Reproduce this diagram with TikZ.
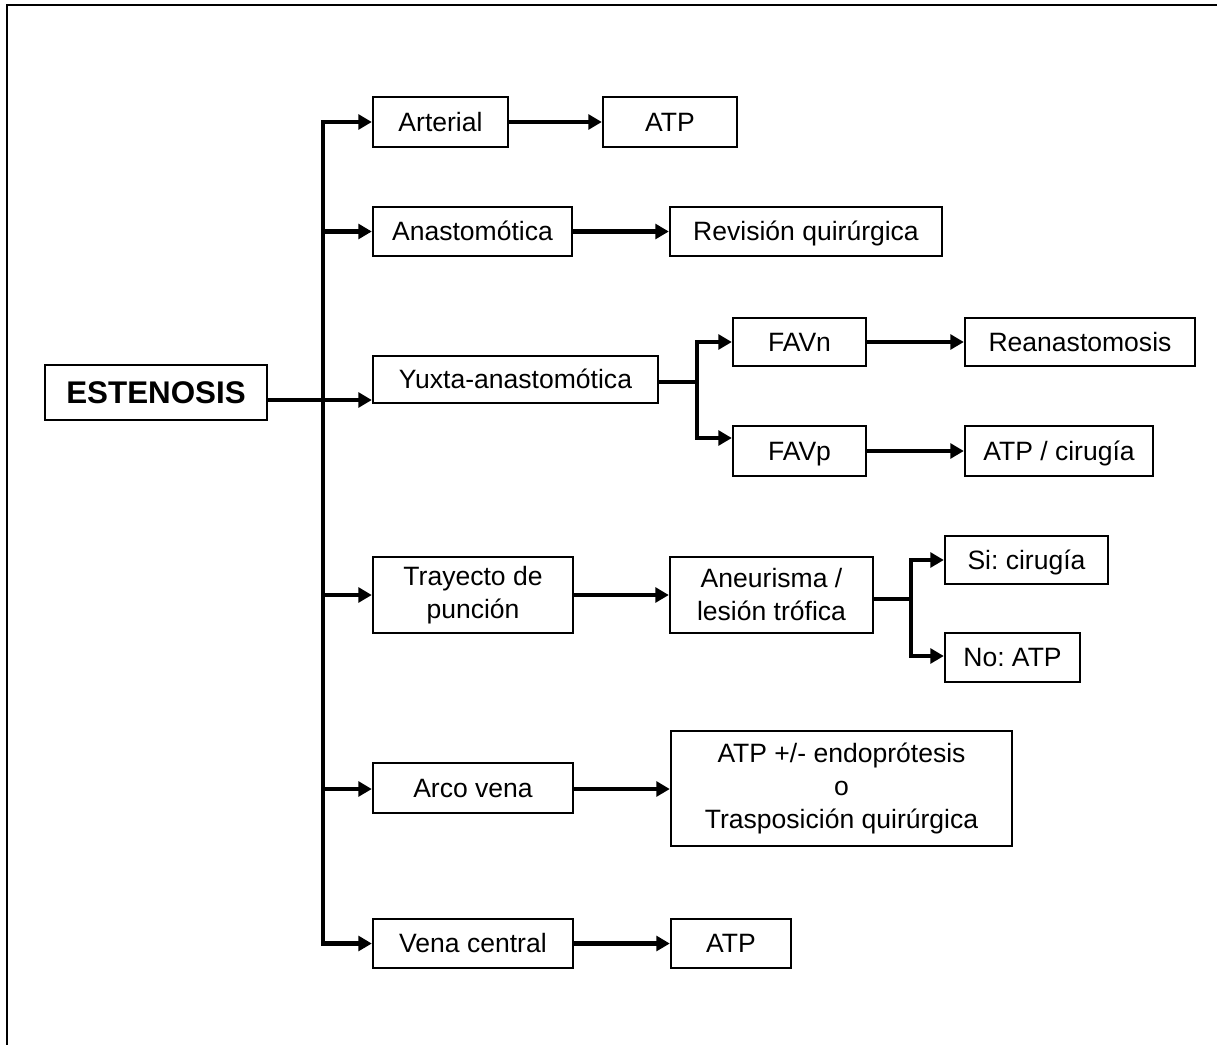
\documentclass[tikz,border=0pt]{standalone}
\usepackage{fontspec}
\setmainfont{Liberation Sans}
\frenchspacing
\usetikzlibrary{arrows.meta}
\begin{document}
\begin{tikzpicture}[x=0.75pt,y=-0.75pt,
  box/.style={draw, line width=1.8pt, inner sep=0pt, align=center,
    font=\fontsize{19.9}{24.75}\selectfont},
  one/.style={text height=18.5pt, text depth=4.3pt},
  arr/.style={line width=3.4pt, -{Triangle[length=10pt,width=11pt]}},
  ln/.style={line width=3.4pt},
  trunk/.style={line width=3.4pt, line cap=rect}]
\useasboundingbox (0,0) rectangle (1217,1045);
% frame (only top and left edges visible)
\draw[line width=1.8pt] (7,1045) -- (7,5) -- (1217,5);

% nodes
\node[box, minimum width=166.5pt, minimum height=41.25pt, font=\fontsize{23.5}{28}\selectfont\bfseries, text height=21pt, text depth=4pt] (est) at (156,392.5) {ESTENOSIS};

\node[box, one, minimum width=101.25pt, minimum height=37.5pt] (art) at (440.5,122) {Arterial};
\node[box, one, minimum width=100.5pt, minimum height=37.5pt] (atpa) at (670,122) {ATP};

\node[box, one, minimum width=149.25pt, minimum height=36.75pt] (anas) at (472.5,231.5) {Anastomótica};
\node[box, one, minimum width=204pt, minimum height=36.75pt] (rev) at (806,231.5) {Revisión quirúrgica};

\node[box, one, minimum width=213.75pt, minimum height=35.25pt] (yux) at (515.5,379.5) {Yuxta-anastomótica};
\node[box, one, minimum width=99.75pt, minimum height=36pt] (favn) at (799.5,342) {FAVn};
\node[box, one, minimum width=172.5pt, minimum height=36pt] (rean) at (1080,342) {Reanastomosis};
\node[box, one, minimum width=99.75pt, minimum height=37.5pt] (favp) at (799.5,451) {FAVp};
\node[box, one, minimum width=141pt, minimum height=37.5pt] (atpc) at (1059,451) {ATP / cirugía};

\node[box, minimum width=150pt, minimum height=57pt] (tray) at (473,595) {Trayecto de\\punción};
\node[box, minimum width=152.25pt, minimum height=57pt] (aneu) at (771.5,595) {Aneurisma /\\lesión trófica};
\node[box, one, minimum width=122.25pt, minimum height=36pt] (si) at (1026.5,560) {Si: cirugía};
\node[box, one, minimum width=101.25pt, minimum height=36.75pt] (no) at (1012.5,657.5) {No: ATP};

\node[box, one, minimum width=150pt, minimum height=37.5pt] (arco) at (473,788) {Arco vena};
\node[box, minimum width=255.75pt, minimum height=86.25pt] (atpe) at (841.5,788.5) {ATP +/- endoprótesis\\o\\Trasposición quirúrgica};

\node[box, one, minimum width=150pt, minimum height=36.75pt] (vena) at (473,943.5) {Vena central};
\node[box, one, minimum width=90pt, minimum height=36.75pt] (atpv) at (731,943.5) {ATP};

% trunk coordinates
\coordinate (t1) at (323,122);
\coordinate (t2) at (323,231.5);
\coordinate (t3) at (323,400);
\coordinate (t4) at (323,595);
\coordinate (t5) at (323,789);
\coordinate (t6) at (323,943.5);

\draw[trunk] (t1) -- (t6);
\draw[ln] (est.east |- t3) -- (t3);
\draw[arr] (t1) -- (art.west);
\draw[arr] (t2) -- (anas.west);
\draw[arr] (t3) -- (yux.west |- t3);
\draw[arr] (t4) -- (tray.west);
\draw[arr] (t5) -- (arco.west |- t5);
\draw[arr] (t6) -- (vena.west);

% second level
\draw[arr] (art.east) -- (atpa.west);
\draw[arr] (anas.east) -- (rev.west);
\draw[arr] (tray.east) -- (aneu.west);
\draw[arr] (arco.east |- t5) -- (atpe.west |- t5);
\draw[arr] (vena.east) -- (atpv.west);

% yuxta branch
\coordinate (b1) at (697,382);
\coordinate (b1t) at (697,342);
\coordinate (b1b) at (697,438);
\draw[ln] (yux.east |- b1) -- (b1);
\draw[trunk] (b1t) -- (b1b);
\draw[arr] (b1t) -- (favn.west);
\draw[arr] (b1b) -- (favp.west |- b1b);
\draw[arr] (favn.east) -- (rean.west);
\draw[arr] (favp.east) -- (atpc.west);

% aneurisma branch
\coordinate (b2) at (911,599);
\coordinate (b2t) at (911,560);
\coordinate (b2b) at (911,656);
\draw[ln] (aneu.east |- b2) -- (b2);
\draw[trunk] (b2t) -- (b2b);
\draw[arr] (b2t) -- (si.west);
\draw[arr] (b2b) -- (no.west |- b2b);
\end{tikzpicture}
\end{document}
